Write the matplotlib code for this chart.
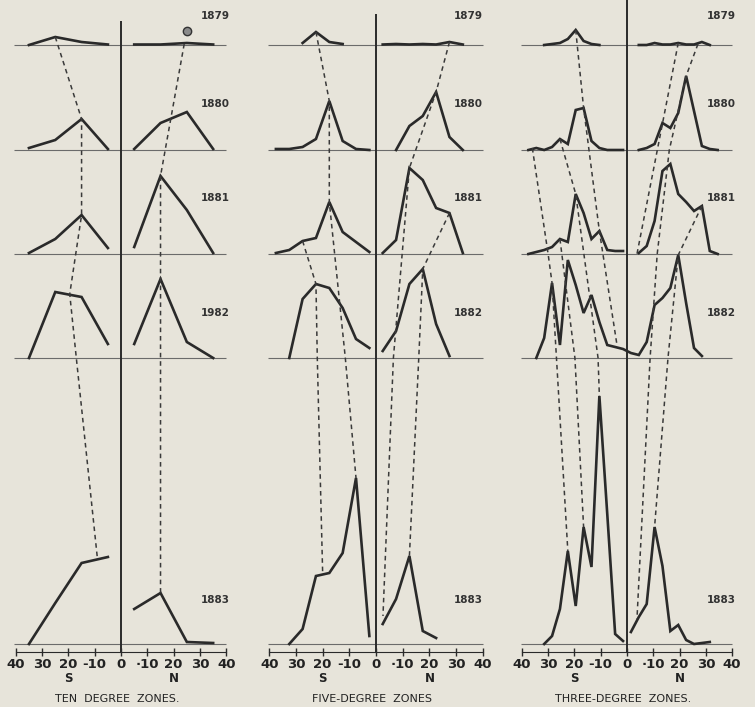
import numpy as np
import matplotlib
matplotlib.use("Agg")
import matplotlib.pyplot as plt

# rows of the diagram, top to bottom
base = [45, 150, 254, 358, 644]      # baseline of each year row
label_y = [16, 104, 198, 313, 600]
axis_y = 652

# ten degree zones
lat10 = [-35, -25, -15, -5, 0, 5, 15, 25, 35]
ten = [
    [0, 8, 3, 0.5, None, 0.5, 0.5, 2, 0.5],
    [2, 10, 31, 1, None, 1, 27, 38, 1],
    [1, 15, 39, 6, None, 7, 78, 44, 1],
    [0, 66, 61, 14, None, 14, 79, 16, 0],
    [0, 41, 81, 87, None, 35, 51, 2, 1],
]
ten_years = ['1879', '1880', '1881', '1982', '1883']
# dashed tracks: (row, latitude, height)
ten_tracks = [
    [(0, -25, 8), (1, -15, 31), (2, -15, 39), (3, -19.5, 64), (3, -17, 0), (4, -9, 86)],
    [(0, 24, 1), (2, 15, 78), (4, 15, 51)],
]

# five degree zones
lat5 = [-37.5, -32.5, -27.5, -22.5, -17.5, -12.5, -7.5, -2.5, 0,
        2.5, 7.5, 12.5, 17.5, 22.5, 27.5, 32.5, 37.5]
five = [
    [None, None, 2, 13, 3, 1, None, None, None, 0.5, 1, 0.5, 1, 0.5, 3, 0.5, None],
    [1, 1, 3, 11, 49, 9, 1, 0, None, None, 0, 24, 34, 58, 13, 0, None],
    [1, 4, 13, 16, 52, 22, 12, 2, None, 1, 14, 86, 74, 46, 41, 1, None],
    [None, 0, 59, 74, 70, 50, 19, 10, None, 7, 27, 74, 89, 34, 2, None, None],
    [None, 0, 15, 68, 71, 91, 166, 8, None, 20, 45, 88, 13, 6, None, None, None],
]
five_years = ['1879', '1880', '1881', '1882', '1883']
five_tracks = [
    [(0, -22.5, 13), (1, -17.5, 49), (2, -17.5, 52), (3, -11.5, 0), (4, -7.5, 166)],
    [(2, -27.5, 13), (3, -22.5, 74), (3, -22, 0), (4, -20, 72)],
    [(0, 27.5, 3), (1, 22.5, 58), (2, 12.5, 86), (3, 6.5, 0), (4, 2.6, 28)],
    [(2, 27.5, 41), (3, 17.5, 89), (3, 16, 0), (4, 12.5, 88)],
]

# three degree zones
lat3 = [-37.5, -34.5, -31.5, -28.5, -25.5, -22.5, -19.5, -16.5, -13.5, -10.5, -7.5, -4.5, -1.5, 0,
        1.5, 4.5, 7.5, 10.5, 13.5, 16.5, 19.5, 22.5, 25.5, 28.5, 31.5, 34.5, 37.5]
three = [
    [None, None, 0, 1, 2, 6, 15, 4, 1, 0, None, None, None, None,
     None, 0, 0, 2, 0.5, 0.5, 2, 0.5, 0.5, 3, 0, None, None],
    [0, 2, 0, 3, 11, 6, 40, 42, 9, 2, 0, 0, 0, None,
     None, 0, 2, 6, 27, 22, 37, 74, 39, 4, 1, 0, None],
    [0, 2, 4, 7, 15, 12, 60, 41, 15, 23, 4, 3, 3, None,
     None, 1, 8, 33, 83, 90, 60, 52, 43, 48, 3, 0, None],
    [None, 0, 20, 75, 13, 98, 73, 45, 63, 36, 13, 11, 9, 7,
     5, 3, 16, 53, 60, 70, 103, 55, 10, 2, None, None, None],
    [None, None, 0, 8, 35, 93, 38, 117, 77, 248, 130, 10, 3, None,
     12, 27, 40, 117, 78, 13, 19, 4, 0, 1, 2, None, None],
]
three_years = ['1879', '1880', '1881', '1882', '1883']
three_tracks = [
    [(1, -36, 2), (2, -30, 0), (3, -28.5, 75), (4, -22.5, 93)],
    [(2, -25.5, 15), (3, -19.8, 0), (4, -16.5, 117)],
    [(1, -25.5, 11), (2, -19.5, 60), (3, -11, 0), (4, -10.5, 248)],
    [(0, -19.5, 15), (1, -16.5, 42), (2, -10.5, 23), (3, -3.8, 13)],
    [(0, 19.5, 2), (2, 3.8, 0)],
    [(0, 27, 1), (1, 22.5, 74), (1, 16.1, 0), (2, 11.5, 0), (3, 8.8, 0), (4, 3.8, 25)],
    [(2, 28.5, 48), (3, 19.5, 103), (3, 15.6, 0), (4, 10.5, 117)],
]

tick_vals = [-40, -30, -20, -10, 0, 10, 20, 30, 40]
tick_text = ['40', '30', '20', '-10', '0', '\u00b710', '20', '30', '40']

paper = '#e7e4da'
ink = '#2a2a2a'

fig = plt.figure(figsize=(7.55, 7.07), dpi=100, facecolor=paper)


def panel(rect, xlim, lat, rows, years, tracks, title, zero_top, year_x):
    ax = fig.add_axes(rect)
    ax.set_xlim(xlim)
    ax.set_ylim(707, 0)
    ax.patch.set_alpha(0)
    for b in base:
        ax.hlines(b, -40.5, 40, color='#6b6b6b', lw=0.8)
    ax.vlines(0, zero_top, axis_y, color=ink, lw=1.4)
    for b, vals in zip(base, rows):
        y = [np.nan if v is None else b - v for v in vals]
        ax.plot(lat, y, color=ink, lw=1.9, solid_joinstyle='miter')
    for tr in tracks:
        ax.plot([t[1] for t in tr], [base[t[0]] - t[2] for t in tr],
                color='#3a3a3a', lw=1.1, ls=(0, (3, 2.5)))
    for yr, yy in zip(years, label_y):
        ax.text(year_x, yy, yr, ha='center', va='center', fontsize=7.5,
                fontweight='bold', color='#333333')
    for s in ['top', 'left', 'right']:
        ax.spines[s].set_visible(False)
    ax.spines['bottom'].set_position(('data', axis_y))
    ax.spines['bottom'].set_bounds(-40, 40)
    ax.spines['bottom'].set_color(ink)
    ax.set_yticks([])
    ax.set_xticks(tick_vals)
    ax.set_xticklabels(tick_text)
    ax.tick_params(axis='x', direction='inout', length=6, width=1, color=ink,
                   labelsize=9.5, pad=1, labelcolor='#222222')
    for lb in ax.get_xticklabels():
        lb.set_fontweight('bold')
    ax.text(-20, 678, 'S', ha='center', va='center', fontsize=8.5, fontweight='bold', color='#222222')
    ax.text(20, 678, 'N', ha='center', va='center', fontsize=8.5, fontweight='bold', color='#222222')
    ax.text(-1.5, 699, title, ha='center', va='center', fontsize=8, color='#222222')
    return ax


panel([0, 0, 250 / 755, 1], (-46.0, 49.0), lat10, ten, ten_years, ten_tracks,
      'TEN  DEGREE  ZONES.', 21, 35.7)
panel([250 / 755, 0, 255 / 755, 1], (-47.2, 48.3), lat5, five, five_years, five_tracks,
      'FIVE-DEGREE  ZONES', 14, 34.5)
panel([500 / 755, 0, 255 / 755, 1], (-48.3, 48.7), lat3, three, three_years, three_tracks,
      'THREE-DEGREE  ZONES.', 0, 35.7)

# the small circle over the northern 1879 curve, ten degree zones
ax0 = fig.axes[0]
ax0.plot([25], [base[0] - 14], 'o', ms=6, mfc='#8a8a8a', mec='#333333', mew=1)

fig.savefig('out.png', dpi=100, facecolor=paper)
